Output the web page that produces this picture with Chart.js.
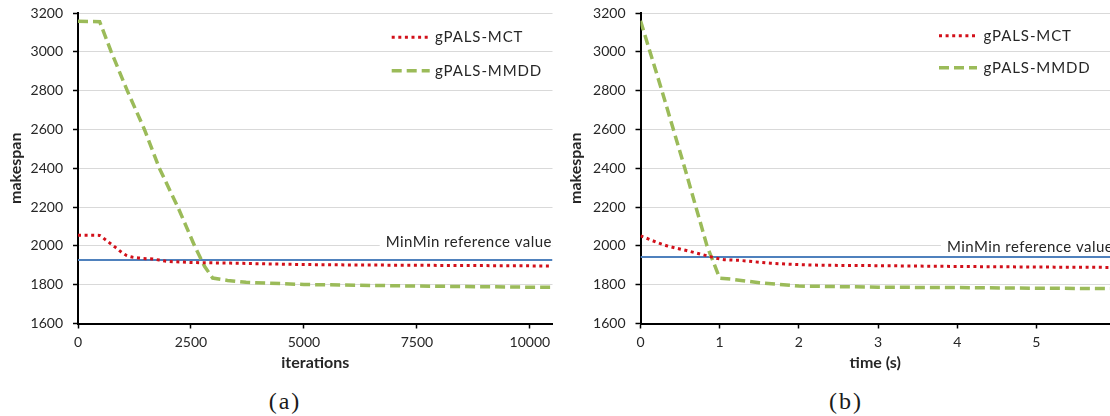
<!DOCTYPE html>
<html>
<head>
<meta charset="utf-8">
<script src="https://cdn.jsdelivr.net/npm/chart.js@4.4.1/dist/chart.umd.min.js"></script>
<style>
  html, body { margin: 0; padding: 0; background: #fff; }
  body { width: 1110px; height: 416px; position: relative; overflow: hidden; }
  .panel { position: absolute; top: 0; height: 380px; }
  #panelA { left: 0; width: 560px; }
  #panelB { left: 560px; width: 550px; }
  .caption { position: absolute; top: 388px; line-height: 26px; font-family: "Liberation Serif", serif; font-size: 24px; letter-spacing: 2px; color: #1a1a1a; transform: translateX(-50%); }
</style>
</head>
<body>
<div class="panel" id="panelA"><canvas id="chartA" width="560" height="380"></canvas></div>
<div class="panel" id="panelB"><canvas id="chartB" width="550" height="380"></canvas></div>
<div class="caption" style="left:285px">(a)</div>
<div class="caption" style="left:846px">(b)</div>
<script>
// --- data ---
const seriesNames = ['gPALS-MCT', 'gPALS-MMDD'];
const refLabel = 'MinMin reference value';
const yTickValues = [1600, 1800, 2000, 2200, 2400, 2600, 2800, 3000, 3200];

// (a) makespan vs iterations
const itersTicks = [0, 2500, 5000, 7500, 10000];
const itersMct  = [0, 250, 480, 590, 830, 1070, 1360, 1660, 1950, 2280, 2580, 3160, 5000, 7500, 10000, 10500];
const mctA      = [2055, 2055, 2054, 2035, 1992, 1951, 1937, 1932, 1921, 1917, 1914, 1912, 1904, 1900, 1897, 1896];
const itersMmdd = [0, 480, 735, 1090, 1470, 1800, 2210, 2580, 2800, 2980, 3310, 3720, 5000, 7500, 10000, 10500];
const mmddA     = [3157, 3155, 3000, 2800, 2600, 2400, 2200, 2000, 1895, 1834, 1822, 1812, 1801, 1793, 1787, 1787];
const refA = 1927;
const itersMax = 10500;

// (b) makespan vs time (s)
const timeTicks = [0, 1, 2, 3, 4, 5];
const timeMct  = [0, 0.29, 0.58, 0.84, 1.01, 1.26, 1.64, 2.12, 3, 4, 5, 5.93];
const mctB     = [2052, 2006, 1976, 1949, 1932, 1925, 1911, 1902, 1898, 1894, 1891, 1889];
const timeMmdd = [0, 0.27, 0.56, 0.84, 1.0, 1.14, 1.5, 2.0, 3, 4, 5, 5.93];
const mmddB    = [3160, 2800, 2400, 2000, 1834, 1829, 1810, 1793, 1787, 1785, 1782, 1780];
const refB = 1943;
const timeMax = 5.93;

const FONT = 'Lato, "Liberation Sans", sans-serif';
const TXT = '#262626';
const RED = '#d2101a', GREEN = '#9bbb59', BLUE = '#4f81bd';

const pts = (xs, ys) => xs.map((x, i) => ({ x: x, y: ys[i] }));
const fixedTicks = vals => s => { s.ticks = vals.map(v => ({ value: v })); };

// legend drawn inside the plot, top right
const insideLegend = {
  id: 'insideLegend',
  afterDatasetsDraw(chart, args, o) {
    const { ctx, chartArea } = chart;
    ctx.save();
    [0, 1].forEach((idx, row) => {
      const ds = chart.data.datasets[idx];
      const x0 = chartArea.left + o.left;
      const y = chartArea.top + o.top + row * o.gap;
      ctx.strokeStyle = ds.borderColor;
      ctx.lineWidth = ds.borderWidth;
      ctx.setLineDash(ds.borderDash || []);
      ctx.beginPath();
      ctx.moveTo(x0, y);
      ctx.lineTo(x0 + 38, y);
      ctx.stroke();
      ctx.setLineDash([]);
      ctx.fillStyle = TXT;
      ctx.font = '15px ' + FONT;
      ctx.letterSpacing = '0.9px';
      ctx.textBaseline = 'middle';
      ctx.fillText(ds.label, x0 + o.textGap, y);
      ctx.letterSpacing = '0px';
    });
    ctx.restore();
  }
};

// "MinMin reference value" text on a white box
const refText = {
  id: 'refText',
  beforeDatasetsDraw(chart, args, o) {
    const { ctx, chartArea, scales } = chart;
    const x = scales.x.getPixelForValue(o.x);
    const y = scales.y.getPixelForValue(o.y);
    ctx.save();
    ctx.fillStyle = '#fff';
    ctx.fillRect(x - 6, y - 14, chartArea.right - x + 6, 18);
    ctx.fillStyle = TXT;
    ctx.font = '15px ' + FONT;
    ctx.letterSpacing = '0.45px';
    ctx.textBaseline = 'alphabetic';
    ctx.fillText(refLabel, x, y);
    ctx.letterSpacing = '0px';
    ctx.restore();
  }
};

function makeChart(id, xs1, ys1, xs2, ys2, ref, xMax, xTicks, xTitle, cfg) {
  return new Chart(document.getElementById(id), {
    type: 'line',
    data: {
      datasets: [
        { label: seriesNames[0], data: pts(xs1, ys1), borderColor: RED, borderWidth: 3,
          borderDash: [3, 3.6], pointRadius: 0, cubicInterpolationMode: 'monotone', order: 1 },
        { label: seriesNames[1], data: pts(xs2, ys2), borderColor: GREEN, borderWidth: 3.5,
          borderDash: [10, 5], pointRadius: 0, tension: 0, order: 2 },
        { label: refLabel, data: pts([0, xMax], [ref, ref]), borderColor: BLUE, borderWidth: 2,
          pointRadius: 0, order: 3 }
      ]
    },
    options: {
      responsive: false,
      animation: false,
      layout: { padding: { top: 13, right: cfg.padRight, left: 0, bottom: 0 } },
      plugins: {
        legend: { display: false },
        tooltip: { enabled: false },
        insideLegend: cfg.legend,
        refText: cfg.ref
      },
      scales: {
        x: {
          type: 'linear', min: 0, max: xMax,
          afterBuildTicks: fixedTicks(xTicks),
          afterFit: s => { s.height = 56.5; s.paddingLeft = 0; s.paddingRight = 0; },
          grid: { drawOnChartArea: false, drawTicks: true, tickLength: 5, tickColor: '#000', tickWidth: 1.5 },
          border: { display: true, color: '#000', width: 2 },
          ticks: { padding: 6, maxRotation: 0, autoSkip: false, callback: v => String(v),
                   color: TXT, font: { family: FONT, size: 14 } },
          title: { display: true, text: xTitle, color: TXT, padding: { top: 0, bottom: 8 },
                   font: { family: FONT, size: 16, weight: 'bold' } }
        },
        y: {
          min: yTickValues[0], max: yTickValues[yTickValues.length - 1],
          afterBuildTicks: fixedTicks(yTickValues),
          afterFit: s => { s.width = cfg.yWidth; s.paddingTop = 0; s.paddingBottom = 0; },
          grid: { color: '#d9d9d9', lineWidth: 1, tickLength: 5, tickColor: '#000', tickWidth: 1.5 },
          border: { display: true, color: '#000', width: 2 },
          ticks: { padding: 10, autoSkip: false, callback: v => String(v),
                   color: TXT, font: { family: FONT, size: 14 } },
          title: { display: true, text: 'makespan', color: TXT, padding: { top: 6, bottom: 0 },
                   font: { family: FONT, size: 16, weight: 'bold' } }
        }
      }
    },
    plugins: [refText, insideLegend]
  });
}

makeChart('chartA', itersMct, mctA, itersMmdd, mmddA, refA, itersMax, itersTicks, 'iterations', {
  padRight: 7.5, yWidth: 78,
  legend: { left: 313.7, top: 24.3, gap: 33.4, textGap: 43.3 },
  ref: { x: 6809, y: 1996 }
});
makeChart('chartB', timeMct, mctB, timeMmdd, mmddB, refB, timeMax, timeTicks, 'time (s)', {
  padRight: 0, yWidth: 80.5,
  legend: { left: 298.5, top: 22.7, gap: 32, textGap: 44.5 },
  ref: { x: 3.87, y: 1970 }
});
</script>
</body>
</html>
